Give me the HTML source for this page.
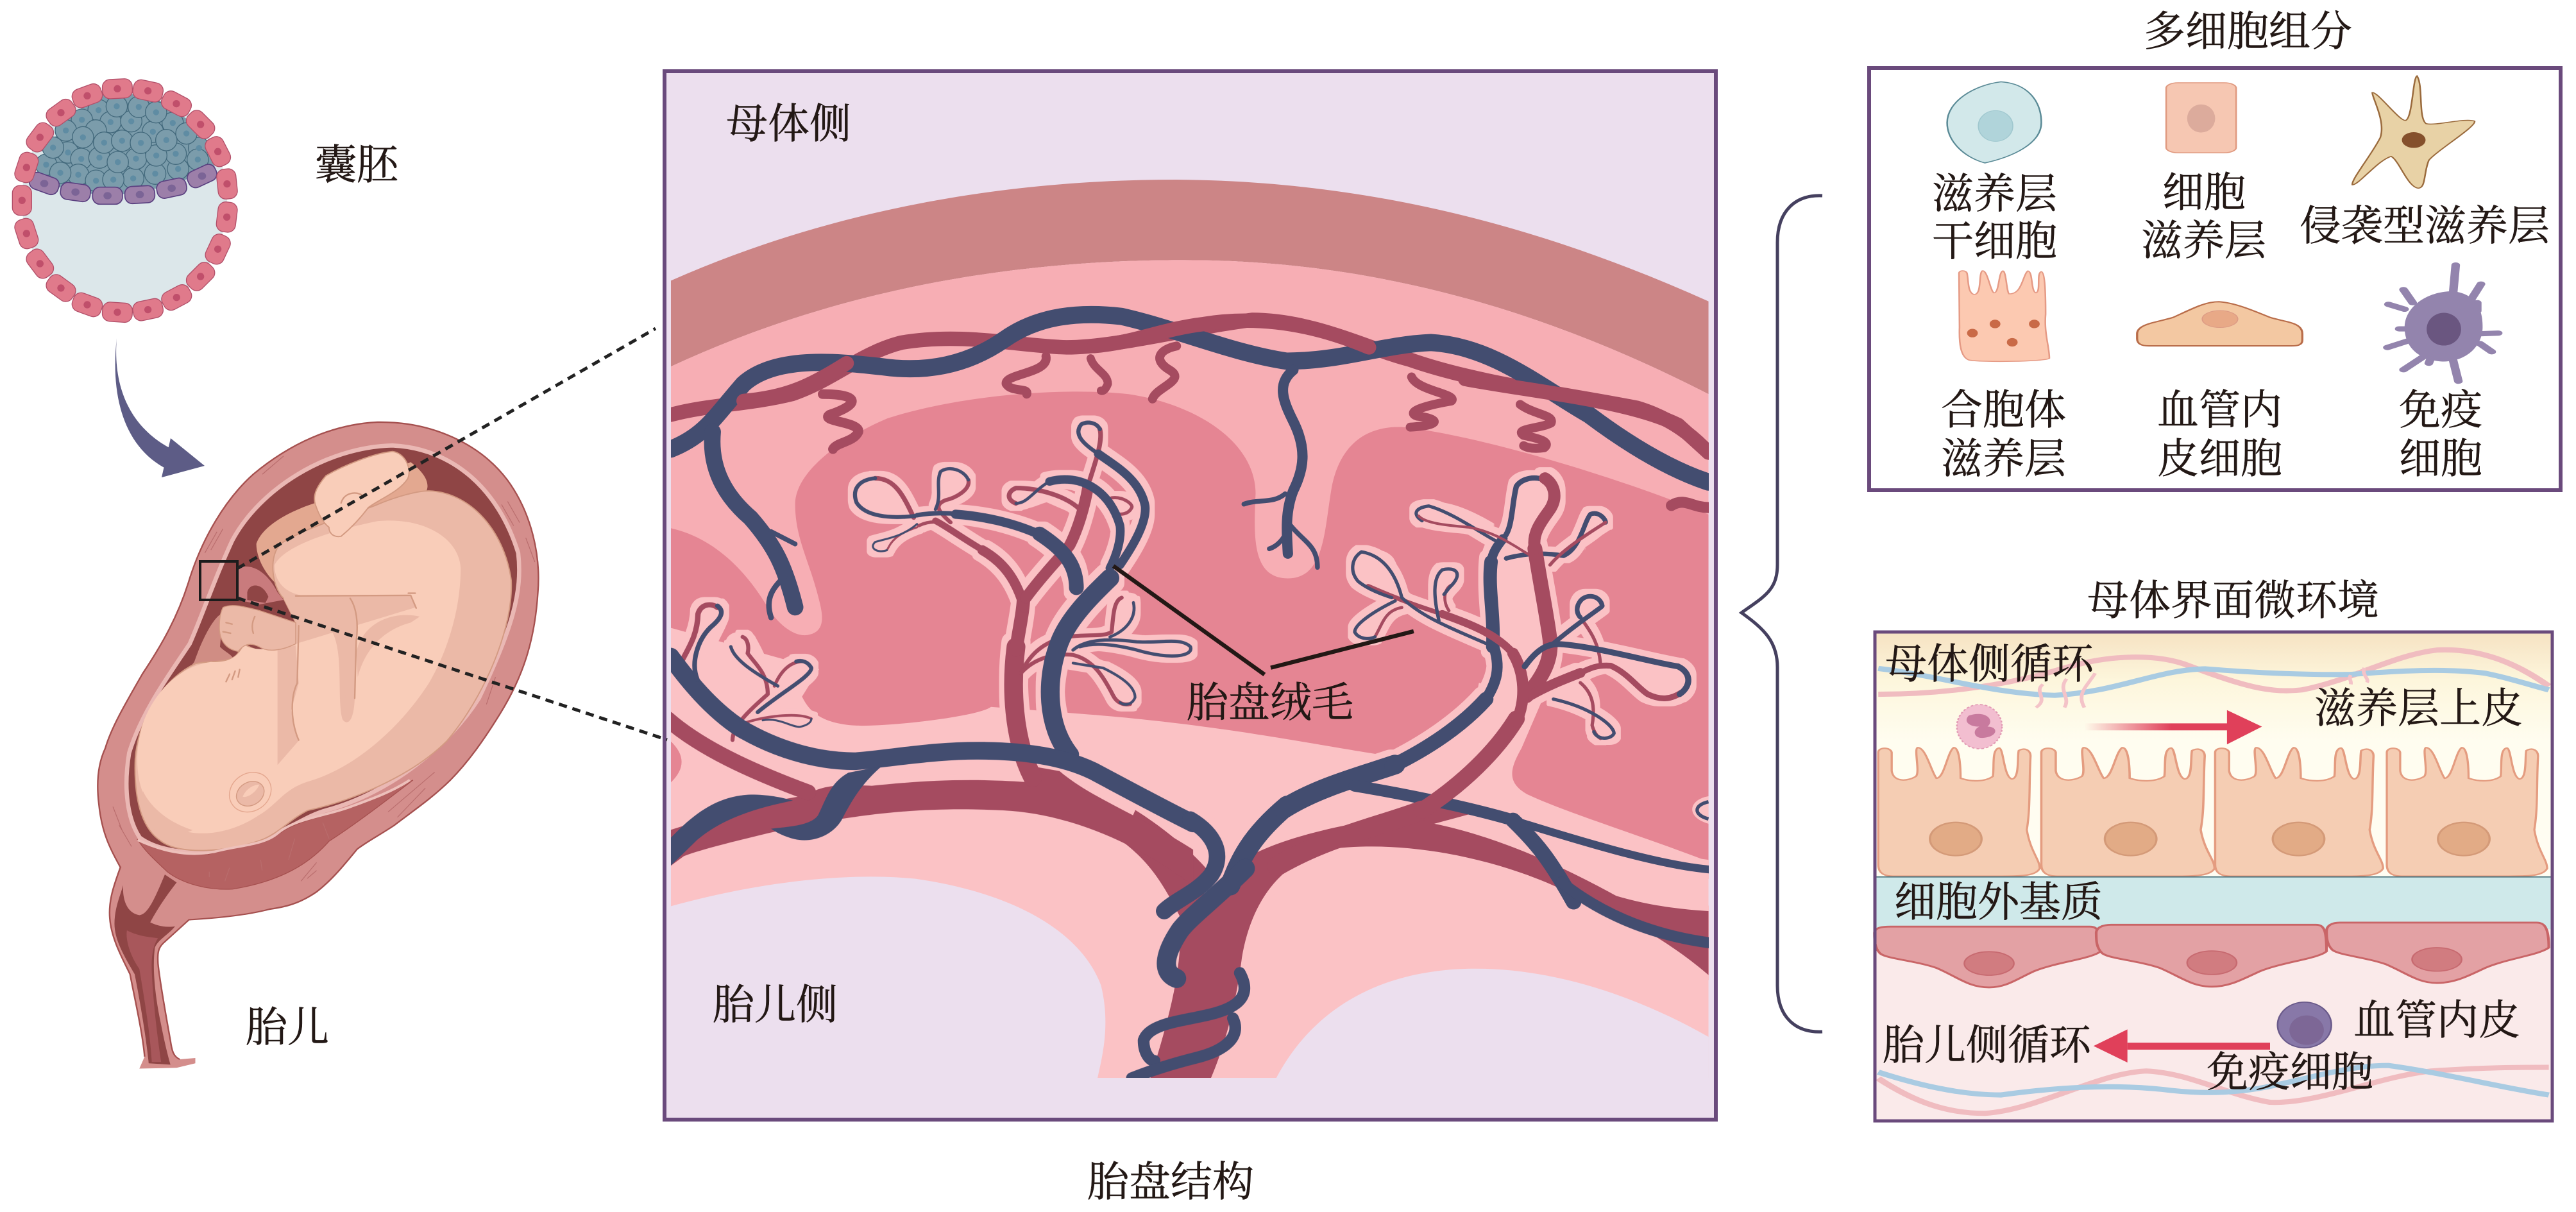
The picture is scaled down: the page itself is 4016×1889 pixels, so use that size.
<!DOCTYPE html>
<html lang="zh"><head><meta charset="utf-8"><title>胎盘结构</title>
<style>
html,body{margin:0;padding:0;background:#fff}
svg{display:block}
text{font-family:"Liberation Serif","Noto Serif CJK SC",serif;font-size:65px;fill:#231815;stroke:#231815;stroke-width:.5px}
.v{fill:none;stroke:#434d70;stroke-linecap:round;stroke-linejoin:round}
.a{fill:none;stroke:#a54b60;stroke-linecap:round;stroke-linejoin:round}
.lf{fill:#fbc2c5}
.af{fill:#a54b60}.vf{fill:#434d70}
.tc{fill:#e07a8b;stroke:#b2506a;stroke-width:4}
.tn{fill:#c04f6b}
.bc{fill:#7b9cab;stroke:#43697c;stroke-width:4}
.bn{fill:#5f8ca3}
.pc{fill:#9c7fa9;stroke:#5a4080;stroke-width:5}
.pn{fill:#7b6496}
.ln{fill:none;stroke:#d39a82;stroke-width:5;stroke-linecap:round;stroke-linejoin:round}
.st{fill:none;stroke:#b96d6d;stroke-width:2.5}
</style></head><body>
<svg xmlns="http://www.w3.org/2000/svg" width="4016" height="1889" viewBox="0 0 4016 1889">
<defs>
<filter id="halo" filterUnits="userSpaceOnUse" x="1036" y="111" width="1639" height="1634" color-interpolation-filters="sRGB">
<feMorphology in="SourceAlpha" operator="dilate" radius="8" result="d"/>
<feFlood flood-color="#fbc2c5"/><feComposite in2="d" operator="in"/>
</filter>
<clipPath id="pl"><rect x="1046" y="120" width="1618" height="1560"/></clipPath>
<linearGradient id="top" x1="0" y1="0" x2="0" y2="1"><stop offset="0" stop-color="#f6e2c2"/><stop offset=".2" stop-color="#fdf6dc"/><stop offset=".45" stop-color="#fffdf0"/><stop offset="1" stop-color="#fffdf2"/></linearGradient>
<linearGradient id="ar1" x1="0" y1="0" x2="1" y2="0"><stop offset="0" stop-color="#e0405a" stop-opacity="0"/><stop offset=".6" stop-color="#e0405a"/></linearGradient>
<path id="ec" d="M272,815 L272,510 C272,495 295,495 297,510 L297,560 C300,590 325,590 342,575 C350,565 338,500 345,497 C360,495 370,560 380,580 C395,580 400,510 412,497 C425,495 425,570 425,580 C445,590 470,590 485,575 C488,550 482,500 497,498 C505,500 505,575 520,582 C535,582 530,520 533,505 C545,495 555,505 555,520 C552,600 555,660 548,720 C555,780 572,800 572,825 C565,845 540,846 500,846 L300,846 C280,846 272,835 272,815Z" fill="#f5cdb3" stroke="#e49c80" stroke-width="4"/>

<g id="lower">
  <g transform="translate(1020,100) scale(1.0714)">
    <path class="af" d="M765,1240 L870,1150 C930,1120 1010,1105 1100,1090 L1160,1070 L1190,1090 L1135,1105 C1210,1120 1300,1155 1400,1210 C1450,1225 1500,1230 1534,1232 L1534,1325 C1470,1270 1400,1235 1330,1205 C1240,1160 1110,1130 1000,1140 C920,1150 870,1210 855,1300 C845,1380 825,1440 810,1475 L722,1475 C745,1400 770,1320 765,1240Z"/>
    <path class="af" d="M700,1085 C740,1110 790,1150 815,1185 L770,1250 C740,1190 720,1160 680,1130Z"/>
  </g>
  <g transform="matrix(.523,0,0,.51,1040,600)">
    <path class="af" d="M10,1360 C100,1330 250,1280 410,1255 C460,1225 500,1220 610,1225 C750,1210 900,1200 1090,1215 L1060,1160 L1170,1180 C1260,1260 1400,1310 1568,1420 L1568,1530 C1400,1400 1200,1310 1000,1300 C800,1290 600,1300 300,1370 C200,1395 100,1420 50,1440 L10,1470 Z"/>
    <path class="a" stroke-width="48" d="M0,1020 C100,1110 250,1180 420,1245"/>
    <path class="lf" d="M740,400 C660,410 590,400 565,360 C545,310 590,280 640,285 C690,290 710,340 735,405Z"/>
    <path class="lf" d="M800,380 C820,340 800,300 815,265 C840,245 885,260 898,290 C905,320 860,345 800,380Z"/>
    <path class="lf" d="M745,425 C700,465 650,470 620,480 C600,500 630,515 655,505 C665,490 670,460 745,435Z"/>
    <path class="lf" d="M1285,210 C1240,180 1210,150 1235,120 C1255,110 1280,115 1290,135 C1300,170 1290,190 1285,210Z"/>
    <path class="lf" d="M1230,380 C1190,340 1110,315 1040,315 C1015,325 1010,350 1040,362 C1080,365 1100,340 1140,340Z"/>
    <path class="lf" d="M1325,345 C1360,340 1390,365 1385,375 C1375,395 1355,395 1350,395Z"/>
    <path class="lf" d="M1340,780 C1330,710 1330,660 1355,650 C1375,650 1385,655 1390,665 C1400,710 1370,750 1340,780Z"/>
    <path class="lf" d="M1210,810 C1250,775 1320,775 1400,785 C1470,790 1530,770 1560,800 C1570,830 1500,840 1400,810 C1340,795 1280,785 1230,800Z"/>
    <path class="lf" d="M1210,825 C1270,840 1300,890 1330,950 C1345,975 1375,985 1395,955 C1395,920 1350,890 1300,865Z"/>
    <path class="lf" d="M240,820 C195,800 195,775 225,770 C250,775 255,800 240,820Z M270,1000 C340,940 430,870 400,845 C350,850 320,900 310,950Z M210,1040 C290,1010 390,1000 430,1020 C420,1050 350,1045 285,1025Z"/>
    <path class="lf" d="M90,900 C70,850 90,780 100,690 C125,665 165,670 170,690 C165,730 120,780 90,900Z"/>
    <path class="lf" d="M190,800 C195,770 240,760 250,790 C300,880 300,920 260,940Z"/>
    <path class="a" stroke-width="56" stroke-linecap="butt" d="M1090,1200 C1030,1080 1025,920 1040,800"/>
    <path class="a" stroke-width="40" d="M1040,810 C1050,740 1060,700 1062,660"/>
    <path class="a" stroke-width="30" d="M1065,680 C1040,590 1000,540 940,505"/>
    <path class="a" stroke-width="20" d="M950,510 C890,475 830,430 800,415"/>
    <path class="a" stroke-width="10" d="M810,420 C785,415 760,425 750,430"/>
    <path class="a" stroke-width="34" d="M1070,650 C1120,580 1170,530 1200,490 C1225,440 1245,370 1255,310"/>
    <path class="a" stroke-width="14" d="M1260,290 C1275,240 1300,170 1290,135"/>
    <path class="a" stroke-width="14" d="M620,285 C680,285 705,340 735,405"/>
    <path class="a" stroke-width="12" d="M898,290 C905,320 860,345 830,352 C800,365 800,380 845,420"/>
    <path class="a" stroke-width="6" d="M655,505 C665,490 670,460 745,435"/>
    <path class="a" stroke-width="14" d="M1230,380 C1190,340 1110,315 1040,315 C1015,325 1010,350 1040,362"/>
    <path class="a" stroke-width="10" d="M1325,345 C1360,340 1390,365 1385,375 C1375,395 1355,395 1350,395"/>
    <path class="a" stroke-width="12" d="M1060,870 C1090,810 1140,775 1210,768 C1260,762 1300,770 1325,755 C1330,710 1330,660 1355,650"/>
    <path class="a" stroke-width="12" d="M1055,880 C1100,830 1160,820 1210,825 C1270,840 1300,890 1330,950 C1340,970 1360,980 1380,975"/>
    <path class="a" stroke-width="16" stroke-linecap="butt" d="M30,875 C50,820 90,780 92,700 C100,670 130,665 150,680"/>
    <path class="a" stroke-width="12" d="M195,1085 C195,1040 250,990 300,945 C300,880 260,850 240,820 C245,800 240,775 225,770"/>
    <path class="a" stroke-width="8" d="M210,1040 C290,1010 390,1000 430,1020"/>
    <path class="a" stroke-width="10" d="M320,920 C340,870 370,845 405,845"/>
    <path class="v" stroke-width="12" d="M740,400 C660,410 590,400 565,360 C550,320 570,290 620,285"/>
    <path class="v" stroke-width="10" d="M800,380 C820,340 800,300 815,265 C840,245 885,260 898,290"/>
    <path class="v" stroke-width="6" d="M745,425 C700,465 650,470 620,480 C600,500 630,515 655,505"/>
    <path class="v" stroke-width="12" d="M1285,210 C1240,180 1210,150 1235,120 C1255,110 1280,115 1290,135"/>
    <path class="v" stroke-width="26" d="M1285,210 C1340,250 1410,290 1425,370 C1430,420 1390,490 1350,550"/>
    <path class="v" stroke-width="9" d="M1040,362 C1075,362 1095,320 1140,295"/>
    <path class="v" stroke-width="26" d="M1140,295 C1230,270 1320,320 1350,430 C1355,470 1340,520 1320,560"/>
    <path class="v" stroke-width="56" d="M1200,1130 C1130,1040 1130,900 1165,800 C1190,720 1260,650 1320,590"/>
    <path class="v" stroke-width="44" d="M1220,620 C1220,550 1185,505 1110,455"/>
    <path class="v" stroke-width="28" d="M1120,462 C1030,418 930,400 860,395"/>
    <path class="v" stroke-width="14" d="M870,395 C830,390 790,390 745,398"/>
    <path class="v" stroke-width="9" d="M1390,665 C1400,710 1370,750 1320,770"/>
    <path class="v" stroke-width="10" d="M1210,810 C1250,775 1320,775 1400,785 C1470,790 1530,770 1560,800 C1570,830 1500,840 1400,810 C1340,795 1280,785 1230,800"/>
    <path class="v" stroke-width="8" d="M1210,850 L1300,865 C1350,890 1395,920 1395,955 C1385,980 1360,980 1350,970"/>
    <path class="v" stroke-width="54" d="M10,830 C60,900 130,990 220,1050 C320,1110 440,1150 560,1150 C680,1140 800,1115 950,1118 C1080,1120 1190,1140 1270,1180 C1380,1240 1470,1290 1568,1340"/>
    <path class="v" stroke-width="14" d="M90,900 C70,850 90,780 130,740 C165,710 170,690 150,675"/>
    <path class="v" stroke-width="10" d="M190,800 C200,840 260,880 330,920"/>
    <path class="v" stroke-width="12" d="M270,1000 C340,940 430,890 430,865 C420,845 400,840 385,845"/>
    <path class="v" stroke-width="6" d="M285,1025 C330,1015 370,1045 395,1045 C420,1040 430,1030 430,1020"/>
    <path class="vf" d="M10,1385 C80,1310 150,1255 250,1252 C300,1252 340,1260 375,1270 C280,1290 170,1320 90,1390 L10,1470 Z"/>
    <path class="vf" d="M640,1165 C590,1210 560,1250 520,1330 C490,1380 430,1400 380,1388 C350,1380 325,1368 310,1356 C370,1350 430,1345 450,1315 C480,1250 490,1215 540,1185 Z"/>
  </g>
  <g transform="matrix(.525,0,0,.51,1860,600)">
    <path class="lf" d="M880,440 C800,390 700,350 665,390 C660,420 720,430 820,435 Z"/>
    <path class="lf" d="M945,450 C945,350 960,290 1010,285 C1070,290 1080,340 1050,390 C1020,420 1005,450 1010,500 L945,500Z"/>
    <path class="lf" d="M1150,490 C1155,420 1175,390 1200,398 C1230,420 1215,435 1150,480Z"/>
    <path class="lf" d="M600,650 C520,620 470,590 470,550 C480,515 550,505 580,545 C600,580 605,620 620,660Z"/>
    <path class="lf" d="M600,660 C540,700 480,730 480,760 C500,790 540,770 560,730 C565,700 590,680 610,680Z"/>
    <path class="lf" d="M730,720 C715,650 710,590 740,565 C780,555 800,575 770,610 C745,640 750,680 760,690Z"/>
    <path class="lf" d="M1150,710 C1135,670 1160,640 1190,645 C1225,660 1215,690 1190,700Z"/>
    <path class="lf" d="M1210,810 C1350,830 1470,850 1475,900 C1465,950 1380,965 1340,940 C1290,890 1250,850 1210,850Z"/>
    <path class="lf" d="M1070,960 C1180,985 1250,1040 1250,1065 C1240,1085 1190,1085 1185,1040 C1190,980 1170,930 1150,910Z"/>
    <path class="lf" d="M890,480 C950,470 1000,480 1020,520 L1075,880 L900,950Z"/>
    <path class="v" stroke-width="40" stroke-linecap="butt" d="M890,800 C895,700 875,620 885,540"/>
    <path class="v" stroke-width="28" d="M885,540 C890,510 905,490 920,470"/>
    <path class="v" stroke-width="10" d="M905,480 C850,450 770,390 700,370 C660,375 650,395 680,415"/>
    <path class="v" stroke-width="16" d="M920,470 C950,440 945,370 960,310 C975,285 1020,275 1050,295"/>
    <path class="v" stroke-width="14" d="M930,530 C1000,510 1060,515 1100,522 C1150,500 1160,420 1180,395 C1205,385 1225,410 1225,420"/>
    <path class="v" stroke-width="60" stroke-linecap="butt" d="M110,1530 C140,1450 170,1380 280,1285"/>
    <path class="v" stroke-width="60" d="M270,1295 C370,1230 500,1195 600,1160"/>
    <path class="v" stroke-width="44" d="M590,1165 C700,1110 800,1040 870,960"/>
    <path class="v" stroke-width="32" d="M860,975 C905,910 915,860 890,790"/>
    <path class="v" stroke-width="36" d="M480,1225 C600,1245 800,1285 950,1330"/>
    <path class="v" stroke-width="24" stroke-linecap="butt" d="M950,1330 C1200,1410 1400,1470 1545,1482"/>
    <path class="a" stroke-width="44" d="M990,950 C1040,890 1065,840 1060,780 C1050,700 1030,600 1015,500"/>
    <path class="a" stroke-width="36" d="M1015,500 C1005,450 1040,410 1060,380 C1085,340 1070,300 1045,285"/>
    <path class="a" stroke-width="30" d="M1000,950 C1050,920 1100,900 1150,880"/>
    <path class="a" stroke-width="18" d="M1150,880 C1180,865 1200,855 1240,858 C1290,880 1320,925 1350,945 C1390,965 1420,960 1450,940"/>
    <path class="a" stroke-width="10" d="M1210,855 C1205,780 1170,740 1150,710"/>
    <path class="a" stroke-width="10" d="M1150,910 C1185,940 1195,980 1185,1040 C1190,1060 1200,1075 1210,1080"/>
    <path class="a" stroke-width="10" d="M1060,550 C1100,500 1180,450 1225,420"/>
    <path class="a" stroke-width="8" d="M1000,520 C950,490 900,450 820,435 C770,430 690,425 670,400"/>
    <path class="a" stroke-width="9" d="M760,690 C740,660 745,620 770,610"/>
    <path class="a" stroke-width="9" d="M540,770 C565,725 570,690 620,680"/>
    <path class="a" stroke-width="60" d="M250,1470 C400,1380 550,1350 680,1300"/>
    <path class="a" stroke-width="50" d="M680,1300 C800,1220 900,1120 960,1020"/>
    <path class="a" stroke-width="34" d="M960,1030 C990,960 985,880 950,820"/>
    <path class="a" stroke-width="24" d="M950,820 C900,760 820,730 740,700"/>
    <path class="a" stroke-width="14" d="M740,700 C680,680 620,660 520,615"/>
    <path class="v" stroke-width="14" d="M1070,790 C1150,720 1215,680 1215,675 C1210,645 1170,635 1150,660 C1135,680 1140,700 1150,710"/>
    <path class="v" stroke-width="18" d="M985,860 C1020,810 1050,790 1090,792 C1200,800 1350,845 1440,860"/>
    <path class="v" stroke-width="18" d="M1440,860 C1480,880 1480,920 1445,945"/>
    <path class="v" stroke-width="10" d="M870,790 C770,745 680,710 620,650 C600,570 560,520 500,510 C470,530 465,570 490,600 C520,625 560,640 590,650"/>
    <path class="v" stroke-width="10" d="M600,660 C540,690 480,730 480,755 C490,775 520,780 540,770"/>
    <path class="v" stroke-width="10" d="M730,720 C715,650 710,590 740,565 C780,555 800,575 770,610 C755,625 750,635 745,640"/>
    <path class="v" stroke-width="10" d="M1070,960 C1180,985 1250,1040 1250,1065 C1240,1085 1200,1085 1190,1060"/>
    <path class="v" stroke-width="46" stroke-linecap="butt" d="M950,1330 C1020,1400 1060,1450 1130,1580"/>
  </g>
  <g transform="translate(1020,100) scale(1.0714)">
    <path class="v" stroke-width="24" d="M780,1099 C815,1120 830,1150 810,1180 C790,1205 760,1215 742,1232"/>
    <path class="v" stroke-width="28" d="M860,1170 C820,1210 780,1240 765,1260 C745,1290 735,1320 760,1330"/>
    <path class="v" stroke-width="16" stroke-linecap="butt" d="M1320,1190 C1370,1230 1440,1265 1534,1278"/>
  </g>
</g>
</defs>

<!-- blastocyst -->
<g transform="translate(0,100) scale(.3333)">
<ellipse cx="582" cy="637" rx="480" ry="525" fill="#dce7ea"/>
<path d="M165,520 L300,260 L480,140 L700,140 L880,260 L1005,480 L800,570 L500,620 L200,560Z" fill="#7b9cab"/>
<g>
<circle class="bc" cx="461" cy="215" r="50"/><circle class="bc" cx="517" cy="271" r="50"/><circle class="bc" cx="614" cy="267" r="50"/><circle class="bc" cx="715" cy="316" r="50"/><circle class="bc" cx="808" cy="275" r="50"/><circle class="bc" cx="546" cy="197" r="50"/><circle class="bc" cx="649" cy="200" r="50"/><circle class="bc" cx="730" cy="225" r="50"/><circle class="bc" cx="383" cy="260" r="50"/><circle class="bc" cx="308" cy="310" r="50"/><circle class="bc" cx="448" cy="310" r="50"/><circle class="bc" cx="388" cy="342" r="50"/><circle class="bc" cx="931" cy="392" r="50"/><circle class="bc" cx="318" cy="413" r="50"/><circle class="bc" cx="380" cy="443" r="50"/><circle class="bc" cx="216" cy="470" r="50"/><circle class="bc" cx="366" cy="517" r="50"/><circle class="bc" cx="449" cy="545" r="50"/><circle class="bc" cx="623" cy="534" r="50"/><circle class="bc" cx="726" cy="512" r="50"/><circle class="bc" cx="833" cy="490" r="50"/><circle class="bc" cx="530" cy="540" r="50"/><circle class="bc" cx="465" cy="437" r="50"/><circle class="bc" cx="636" cy="442" r="50"/><circle class="bc" cx="822" cy="419" r="50"/><circle class="bc" cx="925" cy="446" r="50"/><circle class="bc" cx="551" cy="458" r="50"/><circle class="bc" cx="731" cy="427" r="50"/><circle class="bc" cx="282" cy="508" r="50"/><circle class="bc" cx="248" cy="390" r="50"/><circle class="bc" cx="487" cy="367" r="50"/><circle class="bc" cx="571" cy="358" r="50"/><circle class="bc" cx="659" cy="368" r="50"/><circle class="bc" cx="778" cy="355" r="50"/><circle class="bc" cx="872" cy="324" r="50"/>
</g>
<g>
<circle class="bn" cx="461" cy="215" r="14"/><circle class="bn" cx="517" cy="271" r="14"/><circle class="bn" cx="614" cy="267" r="14"/><circle class="bn" cx="715" cy="316" r="14"/><circle class="bn" cx="808" cy="275" r="14"/><circle class="bn" cx="546" cy="197" r="14"/><circle class="bn" cx="649" cy="200" r="14"/><circle class="bn" cx="730" cy="225" r="14"/><circle class="bn" cx="383" cy="260" r="14"/><circle class="bn" cx="308" cy="310" r="14"/><circle class="bn" cx="388" cy="342" r="14"/><circle class="bn" cx="931" cy="392" r="14"/><circle class="bn" cx="318" cy="413" r="14"/><circle class="bn" cx="380" cy="443" r="14"/><circle class="bn" cx="216" cy="470" r="14"/><circle class="bn" cx="366" cy="517" r="14"/><circle class="bn" cx="449" cy="545" r="14"/><circle class="bn" cx="623" cy="534" r="14"/><circle class="bn" cx="726" cy="512" r="14"/><circle class="bn" cx="833" cy="490" r="14"/><circle class="bn" cx="530" cy="540" r="14"/><circle class="bn" cx="465" cy="437" r="14"/><circle class="bn" cx="636" cy="442" r="14"/><circle class="bn" cx="822" cy="419" r="14"/><circle class="bn" cx="925" cy="446" r="14"/><circle class="bn" cx="551" cy="458" r="14"/><circle class="bn" cx="731" cy="427" r="14"/><circle class="bn" cx="282" cy="508" r="14"/><circle class="bn" cx="248" cy="390" r="14"/><circle class="bn" cx="487" cy="367" r="14"/><circle class="bn" cx="571" cy="358" r="14"/><circle class="bn" cx="659" cy="368" r="14"/><circle class="bn" cx="778" cy="355" r="14"/><circle class="bn" cx="872" cy="324" r="14"/>
</g>
<rect class="pc" x="137" y="518" width="140" height="80" rx="34" transform="rotate(20 207 558)"/><ellipse class="pn" cx="207" cy="558" rx="19" ry="17"/>
<rect class="pc" x="283" y="558" width="140" height="80" rx="34" transform="rotate(8 353 598)"/><ellipse class="pn" cx="353" cy="598" rx="19" ry="17"/>
<rect class="pc" x="433" y="575" width="140" height="80" rx="34"/><ellipse class="pn" cx="503" cy="615" rx="19" ry="17"/>
<rect class="pc" x="584" y="570" width="140" height="80" rx="34" transform="rotate(-3 654 610)"/><ellipse class="pn" cx="654" cy="610" rx="19" ry="17"/>
<rect class="pc" x="733" y="540" width="140" height="80" rx="34" transform="rotate(-12 803 580)"/><ellipse class="pn" cx="803" cy="580" rx="19" ry="17"/>
<rect class="pc" x="875" y="483" width="140" height="80" rx="34" transform="rotate(-25 945 523)"/><ellipse class="pn" cx="945" cy="523" rx="19" ry="17"/>
<g>
<rect class="tc" x="479" y="70" width="140" height="90" rx="36" transform="rotate(-3 549 115)"/>
<rect class="tc" x="622" y="80" width="140" height="90" rx="36" transform="rotate(12 692 125)"/>
<rect class="tc" x="755" y="140" width="140" height="90" rx="36" transform="rotate(28 825 185)"/>
<rect class="tc" x="868" y="237" width="140" height="90" rx="36" transform="rotate(45 938 282)"/>
<rect class="tc" x="949" y="364" width="140" height="90" rx="36" transform="rotate(63 1019 409)"/>
<rect class="tc" x="992" y="515" width="140" height="90" rx="36" transform="rotate(84 1062 560)"/>
<rect class="tc" x="991" y="670" width="140" height="90" rx="36" transform="rotate(97 1061 715)"/>
<rect class="tc" x="949" y="820" width="140" height="90" rx="36" transform="rotate(115 1019 865)"/>
<rect class="tc" x="868" y="948" width="140" height="90" rx="36" transform="rotate(135 938 993)"/>
<rect class="tc" x="756" y="1046" width="140" height="90" rx="36" transform="rotate(152 826 1091)"/>
<rect class="tc" x="622" y="1103" width="140" height="90" rx="36" transform="rotate(168 692 1148)"/>
<rect class="tc" x="479" y="1115" width="140" height="90" rx="36" transform="rotate(4 549 1160)"/>
<rect class="tc" x="338" y="1080" width="140" height="90" rx="36" transform="rotate(20 408 1125)"/>
<rect class="tc" x="215" y="1002" width="140" height="90" rx="36" transform="rotate(36 285 1047)"/>
<rect class="tc" x="117" y="888" width="140" height="90" rx="36" transform="rotate(53 187 933)"/>
<rect class="tc" x="54" y="747" width="140" height="90" rx="36" transform="rotate(72 124 792)"/>
<rect class="tc" x="33" y="592" width="140" height="90" rx="36" transform="rotate(90 103 637)"/>
<rect class="tc" x="54" y="438" width="140" height="90" rx="36" transform="rotate(108 124 483)"/>
<rect class="tc" x="117" y="297" width="140" height="90" rx="36" transform="rotate(127 187 342)"/>
<rect class="tc" x="215" y="182" width="140" height="90" rx="36" transform="rotate(144 285 227)"/>
<rect class="tc" x="338" y="103" width="140" height="90" rx="36" transform="rotate(160 408 148)"/>
<circle class="tn" cx="549" cy="115" r="17"/><circle class="tn" cx="692" cy="125" r="17"/><circle class="tn" cx="825" cy="185" r="17"/><circle class="tn" cx="938" cy="282" r="17"/><circle class="tn" cx="1019" cy="409" r="17"/><circle class="tn" cx="1062" cy="560" r="17"/><circle class="tn" cx="1061" cy="715" r="17"/><circle class="tn" cx="1019" cy="865" r="17"/><circle class="tn" cx="938" cy="993" r="17"/><circle class="tn" cx="826" cy="1091" r="17"/><circle class="tn" cx="692" cy="1148" r="17"/><circle class="tn" cx="549" cy="1160" r="17"/><circle class="tn" cx="408" cy="1125" r="17"/><circle class="tn" cx="285" cy="1047" r="17"/><circle class="tn" cx="187" cy="933" r="17"/><circle class="tn" cx="124" cy="792" r="17"/><circle class="tn" cx="103" cy="637" r="17"/><circle class="tn" cx="124" cy="483" r="17"/><circle class="tn" cx="187" cy="342" r="17"/><circle class="tn" cx="285" cy="227" r="17"/><circle class="tn" cx="408" cy="148" r="17"/>
</g>
</g>

<!-- curved arrow -->
<path d="M182,527 C176,600 200,665 268,700 L258,730 C192,695 172,615 182,527Z" fill="#5d5c86"/>
<path d="M319,726 L266,683 L252,744Z" fill="#5d5c86"/>

<!-- uterus and fetus -->
<g transform="translate(140,640) scale(.472)">
<path d="M950,38 C1130,35 1290,110 1380,230 C1460,340 1490,480 1480,600 C1470,760 1430,880 1355,1001 C1300,1090 1250,1160 1191,1220 C1130,1280 1070,1320 1006,1369 C960,1400 920,1420 883,1448 C840,1500 800,1550 749,1589 C690,1630 640,1640 595,1646 C520,1665 400,1670 328,1681 L102,1510 C70,1450 40,1400 30,1300 C20,1220 30,1160 51,1115 C70,1050 110,980 174,869 C240,770 290,680 325,570 C370,420 450,290 540,210 C660,110 800,45 950,38Z" fill="#d48e8c" stroke="#a5504f" stroke-width="5"/>
<path d="M1000,115 C1200,125 1350,260 1415,470 C1430,600 1395,720 1285,950 C1190,1100 1000,1260 780,1320 C690,1345 620,1420 440,1450 C320,1470 220,1450 165,1410 C125,1350 110,1250 130,1130 C170,1000 250,890 330,770 C370,680 410,560 470,430 C560,260 780,120 1000,115Z" fill="#8f4545" stroke="#eab8b4" stroke-width="14"/>
<path d="M490,520 C540,500 590,540 620,600 L640,625 L560,640 L490,625Z" fill="#c97b7d"/>
<path d="M520,600 C525,570 570,565 590,615 L580,635 L520,625Z" fill="#8f4545"/>
<path d="M345,830 C380,730 420,670 440,670 L430,780 C450,800 480,810 475,830 L320,860Z" fill="#d08d84"/>
<path d="M550,440 C570,380 660,330 760,300 L1060,170 C1125,220 1125,260 1100,280 L900,620 L680,615 C600,580 550,500 550,440Z" fill="#e3a890"/>
<path d="M1120,265 C1260,270 1370,400 1392,560 C1400,720 1300,950 1180,1090 C1060,1210 860,1290 720,1320 C660,1350 620,1400 560,1420 C460,1455 300,1470 236,1422 C170,1380 145,1280 150,1150 C160,1010 250,880 350,835 C400,825 470,835 490,800 L510,770 C540,790 570,800 600,780 L680,770 L680,700 L640,620 C600,580 590,480 630,440 C720,380 880,340 950,310 C1010,285 1080,265 1120,265Z" fill="#ebb9a7" stroke="#d39a82" stroke-width="4"/>
<path d="M610,510 C640,450 780,400 950,365 C1100,350 1220,420 1225,520 C1225,640 1190,780 1120,900 C1030,1040 880,1180 720,1225 C640,1250 620,1300 560,1335 C450,1410 300,1420 230,1340 L175,1260 C150,1200 150,1100 180,1020 C230,900 320,840 400,830 C460,835 490,810 510,775 C550,795 620,790 680,770 L1075,650 L1060,610 L700,610 C640,600 610,560 610,510Z" fill="#f9cdb9"/>
<path d="M620,790 L680,775 L690,900 L665,990 L690,1090 L620,1170Z" fill="#ebb9a7"/>
<path d="M680,770 L690,705 L840,660 C880,680 880,800 875,950 C872,1030 850,1040 835,1020 C815,960 840,800 800,730 C760,700 700,720 680,770Z" fill="#ebb9a7"/>
<path d="M880,800 C900,700 1000,660 1090,680 L1060,700 C980,720 910,780 885,880Z" fill="#ebb9a7"/>
<path d="M860,620 C880,660 885,690 880,760 L875,950 C870,970 850,965 845,950 C830,850 860,740 810,680 L680,700 L640,620Z" fill="#ebb9a7"/>
<path class="ln" d="M680,612 L1060,610 L1078,652 M1052,603 L1075,603"/>
<path class="ln" d="M860,620 C880,650 888,700 880,760 L875,950"/>
<path class="ln" d="M690,710 L685,900 C665,940 660,1020 690,1088"/>
<path d="M440,650 C470,635 520,650 560,660 L680,700 L680,770 C640,790 590,800 560,780 C530,765 510,770 490,795 C460,790 430,770 428,720 C428,690 430,670 440,650Z" fill="#ebb9a7" stroke="#d39a82" stroke-width="3"/>
<path class="ln" stroke-width="3" d="M545,680 C535,700 535,720 540,735 M450,700 L470,705 M440,730 L465,735"/>
<path d="M1000,135 C1040,140 1065,190 1050,225 C1020,270 960,290 920,320 C890,360 860,390 830,415 C800,420 790,400 790,385 C770,370 755,340 745,310 C735,280 750,250 780,215 C840,180 940,140 1000,135Z" fill="#f9cdb9" stroke="#d39a82" stroke-width="4"/>
<path class="ln" stroke-width="3" d="M830,305 C840,270 880,265 900,280"/>
<path class="ln" stroke-width="3" d="M450,895 L462,870 M470,888 L480,860 M490,880 L495,855"/>
<path d="M175,1255 C200,1310 260,1360 340,1385 C260,1420 210,1400 185,1340Z" fill="#ebb9a7"/>
<ellipse cx="530" cy="1260" rx="72" ry="62" transform="rotate(-35 530 1260)" fill="none" stroke="#e4a78f" stroke-width="3"/>
<ellipse cx="530" cy="1265" rx="48" ry="38" transform="rotate(-30 530 1265)" fill="#ebb9a7" stroke="#d39a82" stroke-width="3"/>
<path d="M505,1275 C520,1280 550,1260 560,1235 C540,1235 515,1250 505,1275Z" fill="#f9cdb9"/>
<path class="st" d="M1360,310 L1400,380 M1380,300 L1420,370 M420,400 L380,470 M440,390 L400,460 M1440,420 L1470,500 M640,150 L570,210 M1340,880 L1310,970"/>
</g>

<!-- lower wall and cervix (z8 frame) -->
<g transform="matrix(.4847,0,0,.4145,130,1050)">
<path d="M120,725 C100,790 80,850 85,920 C90,1000 130,1080 150,1130 C170,1250 190,1350 197,1440 L180,1485 L300,1482 L360,1465 L360,1445 L310,1450 C290,1440 285,1420 280,1380 C260,1250 245,1150 240,1090 C238,1050 240,1030 260,1010 L340,925 C420,920 520,910 600,885 L500,700 L120,690Z" fill="#d48e8c"/>
<path d="M120,725 C100,790 80,850 85,920 C90,1000 130,1080 150,1130 C170,1250 190,1350 197,1440 M310,1450 C290,1440 285,1420 280,1380 C260,1250 245,1150 240,1090 C238,1050 240,1030 260,1010 L340,925 C420,920 520,910 600,885" fill="none" stroke="#a5504f" stroke-width="5"/>
<path d="M175,625 C240,660 300,685 400,680 C480,650 560,650 620,610 C680,550 780,540 860,500 C920,470 980,450 1060,400 C960,490 870,570 790,630 C730,710 640,780 480,810 C400,815 320,790 270,745 C230,700 200,670 175,625Z" fill="#b56262" stroke="#a5504f" stroke-width="3"/>
<path d="M175,625 C250,665 330,690 420,670 C500,645 580,645 625,600 C680,545 780,535 860,500 C930,470 990,445 1050,400" fill="none" stroke="#edc0bb" stroke-width="9"/>
<path d="M128,795 C125,850 140,900 180,908 C205,905 225,860 262,755 L300,785 C270,830 240,880 215,935 C240,950 270,955 295,950 C270,985 240,1000 230,1030 C222,1100 228,1200 250,1320 C260,1380 270,1430 280,1470 L210,1465 C205,1400 190,1280 165,1130 C130,1060 100,1000 100,940 C100,880 120,830 128,795Z" fill="#8f4545"/>
<path d="M140,965 C180,990 220,990 240,995 C225,1020 218,1060 220,1120 C225,1250 240,1380 250,1460 L220,1460 C215,1360 200,1250 180,1110 C150,1060 135,1000 140,965Z" fill="#a8575b"/>
<path class="st" d="M95,500 L125,590 M115,570 L155,650 M700,780 L750,710 M720,770 L750,740 M980,520 L1130,370 M1010,540 L1100,430 M680,620 L660,700 M770,560 L790,620 M570,700 L575,740 M470,730 L455,780 M405,745 L405,765"/>
</g>

<!-- placenta panel -->
<rect x="1036" y="111" width="1639" height="1634" fill="#ecdfee" stroke="#6a4a7c" stroke-width="6"/>
<g clip-path="url(#pl)">
<g transform="translate(1020,100) scale(1.0714)">
<path d="M24,315 C250,215 500,168 760,168 C1050,170 1300,240 1534,345 L1534,480 C1300,360 1050,285 770,285 C500,285 250,335 24,440Z" fill="#cc8586"/>
<path d="M24,440 C250,335 500,285 770,285 C1050,285 1300,360 1534,480 L1534,1475 L24,1475Z" fill="#fbc2c5"/>
<path d="M24,1225 C150,1190 280,1175 380,1185 C520,1205 620,1260 650,1340 C665,1400 650,1450 645,1475 L24,1475Z" fill="#ecdfee"/>
<path d="M905,1475 C950,1390 1030,1330 1150,1318 C1280,1305 1420,1350 1534,1415 L1534,1475Z" fill="#ecdfee"/>
<path d="M24,440 C250,335 500,285 770,285 C1050,285 1300,360 1534,480 L1534,720 L900,800 L260,840 L24,820Z" fill="#f7aeb4"/>
<path d="M24,675 C90,690 135,740 165,790 C180,815 205,835 225,830 C250,825 245,800 240,780 C225,720 205,690 205,640 C205,590 280,540 340,515 C450,480 600,470 690,480 C790,495 875,550 875,625 C872,690 870,750 925,748 C975,745 975,680 985,620 C995,560 1030,525 1090,528 C1200,540 1400,600 1534,655 L1534,1160 C1430,1120 1330,1090 1270,1062 C1240,1045 1245,1025 1262,995 L1290,930 L1200,900 C1190,960 1120,1005 1060,1005 C960,990 820,960 620,945 L490,935 C470,950 330,965 290,962 C240,958 225,940 215,920 L240,880 L24,820 Z" fill="#e58593"/>
<path d="M24,985 C45,1005 45,1025 24,1045Z" fill="#e58593"/>
<path d="M1534,1065 C1505,1070 1500,1095 1534,1105Z" fill="#fbc2c5"/>
<path d="M1534,1073 C1512,1078 1512,1092 1534,1098" fill="none" stroke="#434d70" stroke-width="5"/>
<path class="a" stroke-width="14" d="M245,480 C300,480 300,495 255,510 C240,520 300,520 297,535 C290,550 265,550 260,560"/>
<path class="a" stroke-width="13" d="M570,425 C575,450 510,450 512,465 C520,478 545,470 542,480"/>
<path class="a" stroke-width="12" d="M635,428 C640,445 660,450 660,465 C655,478 650,475 650,475"/>
<path class="a" stroke-width="13" d="M760,410 C735,415 725,430 750,445 C775,460 730,470 725,487"/>
<path class="a" stroke-width="13" d="M1102,455 C1110,475 1170,480 1160,490 C1130,495 1090,505 1110,512 C1140,515 1150,525 1100,528"/>
<path class="a" stroke-width="13" d="M1260,495 C1280,510 1310,510 1305,522 C1290,530 1250,530 1265,540 C1290,545 1305,550 1295,558 C1280,560 1270,558 1265,555"/>
<path class="a" stroke-width="16" d="M1480,642 C1500,630 1510,645 1534,645"/>
<path class="a" stroke-width="21" stroke-linecap="butt" d="M24,510 C80,495 140,495 200,480 C260,460 300,420 360,405 C450,390 530,410 600,412 C670,412 770,385 870,372 C960,372 1040,415 1100,430 C1200,465 1330,480 1430,500 C1480,515 1510,540 1534,565"/>
<path class="v" stroke-width="25" stroke-linecap="butt" d="M24,560 C75,540 90,510 130,465 C175,425 260,432 330,440 C400,450 460,435 510,400 C560,365 620,360 680,367 C760,385 840,420 920,432 C1000,432 1060,408 1130,405 C1220,410 1290,470 1360,510 C1420,555 1480,590 1534,608"/>
<path class="a" stroke-width="21" stroke-linecap="butt" d="M640,410 C700,405 740,385 800,378 C880,365 960,378 1040,412"/>
<path class="a" stroke-width="21" stroke-linecap="butt" d="M1180,458 C1290,478 1420,490 1490,525 L1534,565"/>
<path class="a" stroke-width="21" stroke-linecap="butt" d="M130,490 C190,485 225,470 280,435"/>
<path class="v" stroke-width="24" d="M85,535 C80,590 105,630 140,660 C175,700 190,730 205,790"/>
<path class="v" stroke-width="7" d="M170,680 L205,698"/>
<path class="v" stroke-width="8" d="M190,745 C175,760 160,775 170,805"/>
<path class="v" stroke-width="15" d="M930,445 C905,465 915,490 930,520 C950,560 945,590 930,620 C918,650 920,680 922,712"/>
<path class="v" stroke-width="7" d="M918,625 C900,640 880,632 858,640"/>
<path class="v" stroke-width="7" d="M922,670 C920,690 905,702 895,705"/>
<path class="v" stroke-width="7" d="M925,670 C945,695 965,700 965,732"/>
</g>

<use href="#lower" filter="url(#halo)"/>
<use href="#lower"/>

<g transform="translate(1020,100) scale(1.0714)">
<path class="v" stroke-width="17" d="M852,1322 C870,1355 850,1372 810,1382 C770,1392 720,1395 712,1420 C712,1440 722,1450 728,1450"/>
<path class="v" stroke-width="17" d="M842,1388 C855,1415 830,1435 790,1445 C750,1455 720,1465 695,1475"/>
</g>
</g>

<!-- dashed and square -->
<rect x="312" y="875" width="58" height="60" fill="none" stroke="#1c1c1c" stroke-width="4"/>
<path d="M370,886 L1022,512" fill="none" stroke="#222" stroke-width="5" stroke-dasharray="13 9"/>
<path d="M370,932 L1040,1153" fill="none" stroke="#222" stroke-width="5" stroke-dasharray="13 9"/>

<!-- callouts -->
<g transform="translate(1020,100) scale(1.0714)" stroke="#231815" stroke-width="6" fill="none">
<path d="M668,730 L888,888"/><path d="M1105,825 L897,878"/>
</g>

<!-- brace -->
<path d="M2841,305 C2800,303 2771,328 2771,378 L2771,880 C2771,920 2750,930 2715,955 C2750,980 2771,1000 2771,1040 L2771,1536 C2771,1586 2800,1610 2841,1608" fill="none" stroke="#45405f" stroke-width="5"/>

<!-- multicellular box -->
<rect x="2914" y="106" width="1078" height="658" fill="#fff" stroke="#6a4a7c" stroke-width="6"/>
<g transform="matrix(.839,0,0,.51,2700,0)">
<path d="M400,375 C400,310 450,260 500,250 C550,255 575,310 575,375 C575,440 520,480 470,498 C430,480 400,430 400,375Z" fill="#d2e8ea" stroke="#5a8a96" stroke-width="3"/>
<ellipse cx="490" cy="385" rx="32" ry="47" fill="#b0d4da" stroke="#a0c8cf" stroke-width="2"/>
<rect x="807" y="253" width="130" height="214" rx="22" ry="16" fill="#f6c7b2" stroke="#e0997f" stroke-width="3"/>
<ellipse cx="872" cy="362" rx="26" ry="43" fill="#dcab9c"/>
<path d="M1273,232 C1285,260 1275,360 1290,378 C1310,385 1360,360 1380,370 C1385,385 1310,460 1295,490 C1285,530 1290,575 1275,575 C1255,570 1240,490 1225,478 C1200,490 1165,565 1153,565 C1150,550 1190,470 1205,420 C1215,370 1190,300 1190,283 C1200,280 1240,370 1252,368 C1265,360 1265,240 1273,232 Z" fill="#e8d2a6" stroke="#9a6a3c" stroke-width="3"/>
<ellipse cx="1267" cy="428" rx="22" ry="24" fill="#85502c"/>
<path d="M422,835 C422,825 435,825 437,835 C440,860 438,895 450,900 C465,900 458,840 465,828 C475,822 480,890 487,895 C497,895 495,835 503,828 C510,825 510,890 515,898 C540,900 540,840 550,828 C560,830 555,890 565,895 C575,890 565,835 575,830 C582,832 583,900 583,960 C580,1020 590,1060 590,1095 C585,1105 460,1108 440,1100 C425,1090 422,1050 423,1000 Z" fill="#fcc9b1" stroke="#e59a85" stroke-width="3"/>
<ellipse cx="447" cy="1018" rx="10" ry="13" fill="#c96a47"/><ellipse cx="489" cy="990" rx="10" ry="13" fill="#c96a47"/><ellipse cx="562" cy="990" rx="10" ry="13" fill="#c96a47"/><ellipse cx="521" cy="1046" rx="10" ry="13" fill="#c96a47"/>
<path d="M753,1020 C753,990 790,985 820,970 C860,940 880,922 905,922 C935,925 970,950 1000,970 C1030,985 1060,985 1060,1020 L1060,1040 C1060,1055 1050,1057 1040,1057 L775,1057 C760,1057 753,1050 753,1035 Z" fill="#f3c8a2" stroke="#b96d4a" stroke-width="4"/>
<ellipse cx="907" cy="975" rx="33" ry="26" fill="#e8a987" stroke="#dc9b85" stroke-width="2"/>
<g fill="none" stroke="#9384ad" stroke-linecap="round">
<path stroke-width="16" d="M1340,900 L1345,810 M1370,925 L1392,868 M1385,950 L1385,925 M1390,1020 L1424,1018 M1390,1050 L1412,1075 M1265,925 L1248,885 M1250,945 L1220,930 M1255,1005 L1240,1005 M1260,1040 L1218,1062 M1285,1090 L1248,1130 M1340,1100 L1350,1165 M1300,1090 L1295,1110"/>
</g>
<path d="M1250,1000 C1250,940 1290,890 1340,890 C1390,900 1395,960 1395,1000 C1395,1050 1370,1105 1320,1105 C1275,1100 1250,1060 1250,1000Z" fill="#9384ad"/>
<ellipse cx="1323" cy="1006" rx="32" ry="50" fill="#6a5680"/>
</g>

<!-- microenvironment box -->
<g transform="matrix(.839,0,0,.574,2700,880)">
<rect x="266" y="182" width="1259" height="666" fill="url(#top)"/>
<rect x="266" y="848" width="1259" height="145" fill="#cfe9ea"/>
<rect x="266" y="990" width="1259" height="520" fill="#faeaea"/>
<path d="M272,352 C400,352 520,325 620,280 C700,245 790,240 850,275 C950,330 1000,350 1060,340 C1150,315 1230,245 1310,232 C1400,225 1470,280 1518,330" fill="none" stroke="#f0bcc0" stroke-width="14"/>
<path d="M272,282 C380,300 480,350 600,355 C720,345 790,285 880,283 C980,295 1080,300 1150,298 C1230,290 1320,280 1400,295 C1450,310 1490,330 1518,340" fill="none" stroke="#a9cbe2" stroke-width="14"/>
<path d="M578,325 C560,345 590,365 565,388 M622,310 C605,340 630,360 618,388 M675,295 C660,330 640,350 655,388 M1175,280 C1170,300 1185,310 1180,320 M1150,300 C1145,310 1152,315 1150,325" fill="none" stroke="#f4c3c8" stroke-width="7"/>
<ellipse cx="460" cy="440" rx="42" ry="60" fill="#f2bed0" stroke="#e29ab4" stroke-width="3" stroke-dasharray="5 4"/>
<path d="M440,410 C470,395 490,420 475,440 C495,440 495,465 470,470 C450,475 445,450 460,440 C440,440 430,425 440,410Z" fill="#c87a9e"/>
<rect x="655" y="431" width="270" height="19" fill="url(#ar1)"/>
<path d="M920,395 L985,440 L920,488Z" fill="#e0405a"/>
<use href="#ec"/>
<use href="#ec" transform="translate(575,0) scale(1.073,1) translate(-272,0)"/>
<use href="#ec" transform="translate(898,0) scale(1.04,1) translate(-272,0)"/>
<use href="#ec" transform="translate(1217,0) scale(.993,1) translate(-272,0)"/>
<ellipse cx="416" cy="745" rx="48" ry="45" fill="#e2ab86" stroke="#d49a78" stroke-width="4"/>
<ellipse cx="741" cy="745" rx="48" ry="45" fill="#e2ab86" stroke="#d49a78" stroke-width="4"/>
<ellipse cx="1053" cy="745" rx="48" ry="45" fill="#e2ab86" stroke="#d49a78" stroke-width="4"/>
<ellipse cx="1360" cy="745" rx="48" ry="45" fill="#e2ab86" stroke="#d49a78" stroke-width="4"/>
<path d="M266,848 L1525,848" stroke="#47707a" stroke-width="3"/>
<g stroke="#c96567" stroke-width="5" fill="#e3a1a4">
<path d="M265,1000 C265,985 280,983 295,983 L665,983 C680,983 685,995 685,1050 C670,1070 600,1080 560,1105 C530,1125 510,1148 478,1148 C440,1148 420,1120 380,1095 C340,1075 285,1070 275,1055 C265,1040 265,1020 265,1000Z"/>
<path d="M677,1000 C677,985 690,978 705,978 L1085,978 C1100,978 1105,990 1105,1050 C1090,1070 1020,1080 980,1105 C950,1125 925,1146 892,1146 C855,1146 835,1120 795,1095 C755,1075 700,1070 688,1055 C677,1040 677,1020 677,1000Z"/>
<path d="M1105,995 C1105,980 1115,972 1130,972 L1495,972 C1510,972 1518,985 1518,1040 C1500,1060 1440,1070 1400,1095 C1370,1115 1345,1136 1310,1136 C1275,1136 1255,1110 1215,1085 C1175,1065 1125,1060 1115,1045 C1105,1030 1105,1010 1105,995Z"/>
</g>
<ellipse cx="478" cy="1083" rx="46" ry="32" fill="#d17c80" stroke="#c76a70" stroke-width="3"/>
<ellipse cx="892" cy="1081" rx="46" ry="32" fill="#d17c80" stroke="#c76a70" stroke-width="3"/>
<ellipse cx="1310" cy="1072" rx="46" ry="32" fill="#d17c80" stroke="#c76a70" stroke-width="3"/>
<path d="M272,1395 C340,1460 400,1490 470,1490 C570,1480 680,1380 770,1375 C850,1380 920,1440 1000,1460 C1090,1465 1200,1390 1300,1375 C1400,1365 1460,1365 1518,1365" fill="none" stroke="#f0bcc0" stroke-width="14"/>
<path d="M272,1378 C340,1410 420,1440 500,1440 C600,1420 700,1410 800,1425 C880,1440 950,1435 1020,1410 C1100,1385 1150,1360 1220,1360 C1320,1380 1430,1420 1518,1440" fill="none" stroke="#a9cbe2" stroke-width="14"/>
<rect x="735" y="1298" width="265" height="19" fill="#e0405a"/>
<path d="M735,1262 L672,1307 L735,1352Z" fill="#e0405a"/>
<ellipse cx="1064" cy="1250" rx="50" ry="62" fill="#8878a8" stroke="#6a5a8a" stroke-width="3"/>
<ellipse cx="1068" cy="1264" rx="32" ry="40" fill="#7d6796"/>
</g>
<rect x="2923" y="985" width="1056" height="762" fill="none" stroke="#6a4a7c" stroke-width="5"/>

<!-- text -->
<text x="491" y="279">囊胚</text>
<text x="383" y="1623">胎儿</text>
<text x="1132" y="215">母体侧</text>
<text x="1111" y="1588">胎儿侧</text>
<text x="1850" y="1117">胎盘绒毛</text>
<text x="1695" y="1864">胎盘结构</text>
<text x="3342" y="71">多细胞组分</text>
<text x="3012" y="324">滋养层</text>
<text x="3012" y="398">干细胞</text>
<text x="3371" y="322">细胞</text>
<text x="3338" y="397">滋养层</text>
<text x="3585" y="374">侵袭型滋养层</text>
<text x="3026" y="661">合胞体</text>
<text x="3026" y="737">滋养层</text>
<text x="3363" y="661">血管内</text>
<text x="3363" y="737">皮细胞</text>
<text x="3740" y="661">免疫</text>
<text x="3740" y="737">细胞</text>
<text x="3254" y="958">母体界面微环境</text>
<text x="2939" y="1057">母体侧循环</text>
<text x="3608" y="1126">滋养层上皮</text>
<text x="2953" y="1428">细胞外基质</text>
<text x="3669" y="1612">血管内皮</text>
<text x="2935" y="1651">胎儿侧循环</text>
<text x="3440" y="1693">免疫细胞</text>
</svg>
</body></html>
